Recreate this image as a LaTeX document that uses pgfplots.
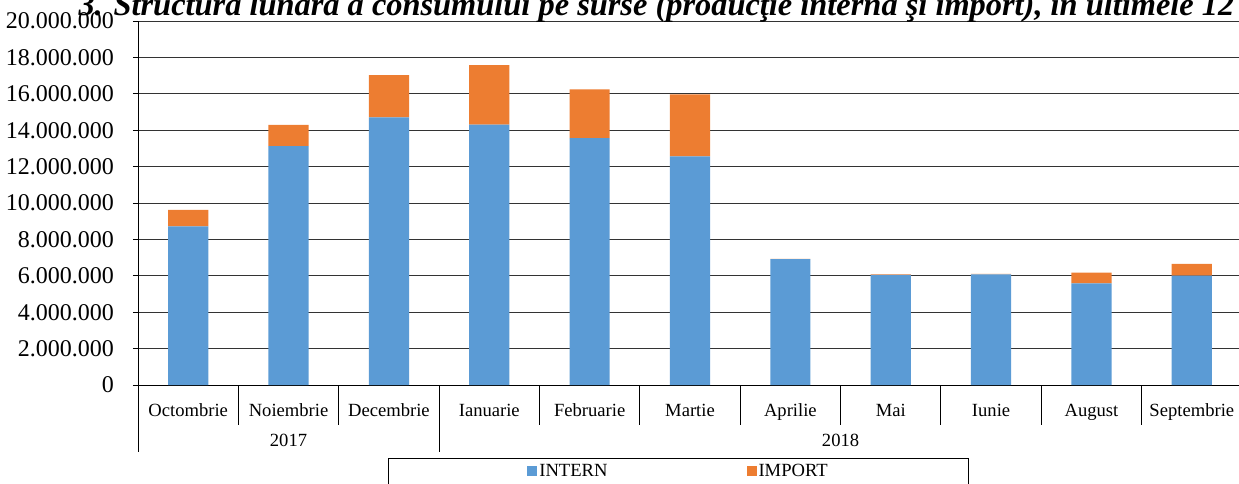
\documentclass[border=0pt]{standalone}
\usepackage{fontspec}
\setmainfont{Liberation Serif}
\usepackage{pgfplots}
\pgfplotsset{compat=1.18}
\definecolor{cintern}{HTML}{5B9BD5}
\definecolor{cimport}{HTML}{ED7D31}
\begin{document}
\begin{tikzpicture}
\begin{axis}[
  at={(138pt,98pt)}, anchor=south west,
  width=1104pt, height=364pt, scale only axis,
  ybar stacked, bar width=40.2pt,
  xmin=-0.5, xmax=10.5, ymin=0, ymax=20000000,
  axis lines*=left,
  axis line style={black, line width=1pt},
  xtick={0,1,2,3,4,5,6,7,8,9,10},
  xticklabels={Octombrie,Noiembrie,Decembrie,Ianuarie,Februarie,Martie,Aprilie,Mai,Iunie,August,Septembrie},
  xtick style={draw=none},
  xticklabel style={anchor=base, yshift=-26pt, font=\fontsize{18.6}{20}\selectfont},
  ytick={0,2000000,4000000,6000000,8000000,10000000,12000000,14000000,16000000,18000000,20000000},
  scaled y ticks=false,
  yticklabel style={/pgf/number format/.cd, fixed, precision=0, 1000 sep={.}, assume math mode=true, /tikz/.cd, anchor=east, xshift=-19pt, inner sep=0pt, font=\fontsize{24}{26}\selectfont},
  ytick style={draw=black, line width=0.9pt},
  tick align=outside, major tick length=5pt,
  ymajorgrids, grid style={black!80, line width=0.9pt},
  clip=false,
  legend style={at={(axis description cs:0.4896,-0.2005)}, anchor=north, legend columns=2, draw=black, line width=0.8pt, inner xsep=139pt, inner ysep=4pt, font=\fontsize{18.6}{20}\selectfont, /tikz/every even column/.append style={column sep=137pt}, cells={anchor=west}},
  legend image code/.code={\fill[#1] (0pt,-5pt) rectangle (10pt,5pt);},
]
\addplot[fill=cintern, draw=none] coordinates {(0,8720000) (1,13130000) (2,14700000) (3,14300000) (4,13560000) (5,12560000) (6,6910000) (7,6050000) (8,6080000) (9,5590000) (10,6010000)};
\addplot[fill=cimport, draw=none] coordinates {(0,900000) (1,1160000) (2,2330000) (3,3270000) (4,2690000) (5,3410000) (6,20000) (7,30000) (8,30000) (9,580000) (10,640000)};
\legend{INTERN,IMPORT}
\draw[black, line width=0.9pt] (axis cs:-0.5,0) -- ++(0pt,-67pt);
\draw[black, line width=0.9pt] (axis cs:2.5,0) -- ++(0pt,-67pt);
\draw[black, line width=0.9pt] (axis cs:10.5,0) -- ++(0pt,-67pt);
\draw[black, line width=0.9pt] (axis cs:0.5,0) -- ++(0pt,-40pt);
\draw[black, line width=0.9pt] (axis cs:1.5,0) -- ++(0pt,-40pt);
\draw[black, line width=0.9pt] (axis cs:3.5,0) -- ++(0pt,-40pt);
\draw[black, line width=0.9pt] (axis cs:4.5,0) -- ++(0pt,-40pt);
\draw[black, line width=0.9pt] (axis cs:5.5,0) -- ++(0pt,-40pt);
\draw[black, line width=0.9pt] (axis cs:6.5,0) -- ++(0pt,-40pt);
\draw[black, line width=0.9pt] (axis cs:7.5,0) -- ++(0pt,-40pt);
\draw[black, line width=0.9pt] (axis cs:8.5,0) -- ++(0pt,-40pt);
\draw[black, line width=0.9pt] (axis cs:9.5,0) -- ++(0pt,-40pt);
\node[anchor=base, font=\fontsize{18.6}{20}\selectfont] at ([yshift=-61pt]axis cs:1,0) {2017};
\node[anchor=base, font=\fontsize{18.6}{20}\selectfont] at ([yshift=-61pt]axis cs:6.5,0) {2018};
\end{axis}
\node[anchor=base west, font=\fontsize{32.4}{34}\selectfont\bfseries\itshape] at (75pt,467pt) {3. Structura lunară a consumului pe surse (producţie internă şi import), în ultimele 12 luni};
\pgfresetboundingbox
\path[use as bounding box] (0,0) rectangle (1239pt,483pt);
\end{tikzpicture}
\end{document}
